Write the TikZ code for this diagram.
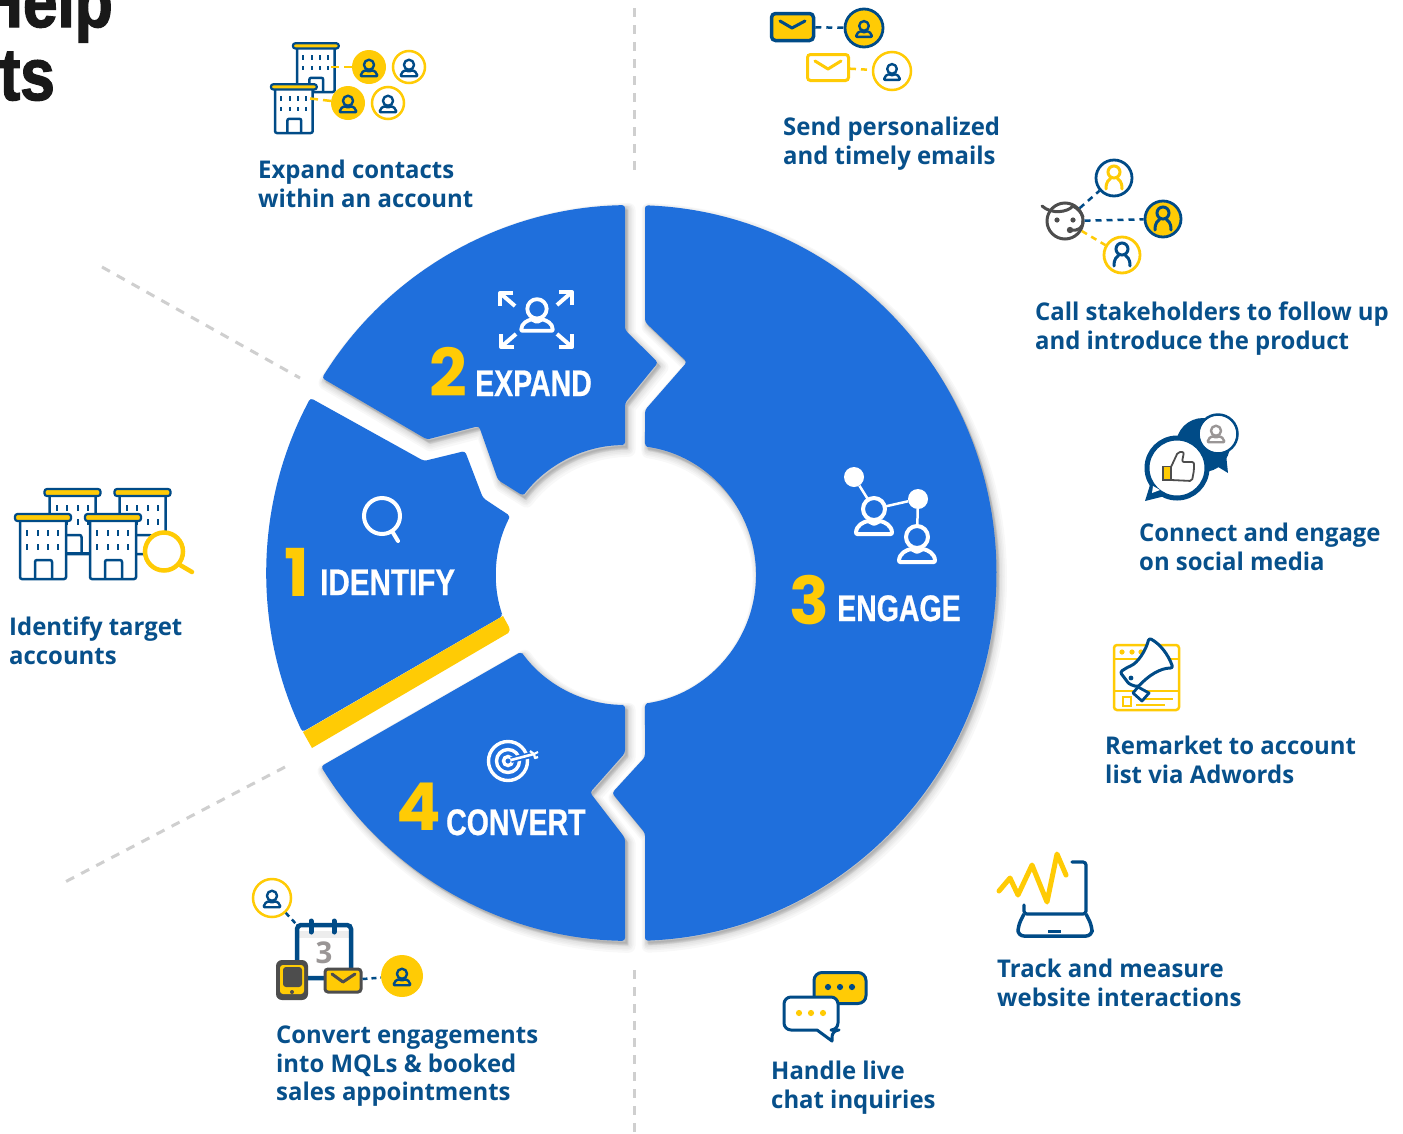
\documentclass[tikz,border=0pt]{standalone}
\usepackage{fontspec}
\usetikzlibrary{calc}
\newfontfamily\labf{Open Sans}[FakeStretch=0.98]
\newfontfamily\numf{Poppins}
\newfontfamily\condf{Liberation Sans}[FakeStretch=0.77,FakeBold=0.6]
\newfontfamily\condg{Liberation Sans}[FakeStretch=0.8,FakeBold=0.6]
\newfontfamily\titlef{Liberation Sans}[FakeStretch=0.84,FakeBold=1.8]
\definecolor{segblue}{HTML}{1F6FDC}
\definecolor{yel}{HTML}{FFCB05}
\definecolor{navy}{HTML}{004B87}
\definecolor{labblue}{HTML}{07508B}
\definecolor{dgray}{HTML}{4D4D4D}
\definecolor{mgray}{HTML}{9A9696}
\definecolor{dashgray}{HTML}{CFCFCF}
\newcommand\pers[5]{% x y scale colour linewidth : icon centre
 \begin{scope}[shift={(#1,#2)},scale=#3]
  \draw[line width=#5,draw=#4,line join=round] (0,-7) circle[radius=11];
  \draw[line width=#5,draw=#4,line join=round,rounded corners=1pt] (-18,18) -- (18,18) .. controls (18,9) and (10,6) .. (6,5) -- (0,8) -- (-6,5) .. controls (-10,6) and (-18,9) .. (-18,18) -- cycle;
 \end{scope}}
\newcommand\archp[3]{% x y colour
 \draw[line width=3pt,draw=#3] (#1,#2-6) circle[radius=6];
 \draw[line width=3pt,draw=#3,line cap=round] (#1-8,#2+11) .. controls (#1-8,#2+3) and (#1-5,#2+2) .. (#1-3.5,#2+0.5);
 \draw[line width=3pt,draw=#3,line cap=round] (#1+8,#2+11) .. controls (#1+8,#2+3) and (#1+5,#2+2) .. (#1+3.5,#2+0.5);}
\newcommand\bld[3]{% x y scaling : left bottom of body
 \begin{scope}[shift={(#1,#2)},#3]
  \draw[navy,fill=white,line width=2.5pt,rounded corners=2pt] (0,-60) -- (46,-60) -- (46,0) -- (0,0) -- cycle;
  \draw[navy,line width=2.5pt,rounded corners=2pt] (15,0) -- (15,-19) -- (32,-19) -- (32,0);
  \draw[navy,fill=yel,line width=2.2pt,rounded corners=2.5pt] (-5,-65) rectangle (51,-58);
  \foreach \wx in {7.3,17.7,28.3,38.3}{\foreach \wy in {-46,-32}{
    \draw[navy,line width=2pt] (\wx,\wy-3) -- (\wx,\wy+3);}}
 \end{scope}}
\newcommand\oarc[3]{($(631.5,573)+(#1:365 and 368)$) -- ($(631.5,573)+(#1+#3:365 and 368)$) arc[start angle={#1+#3},end angle={#2-#3},x radius=365,y radius=368] -- ($(631.5,573)+(#2:365 and 368)$)}
\newcommand\iarc[3]{($(626,575)+(#1:130)$) -- ($(626,575)+(#1+#3:130)$) arc[start angle={#1+#3},end angle={#2-#3},radius=130] -- ($(626,575)+(#2:130)$)}
\newcommand\segone{\oarc{154.4}{208.4}{1} -- (424,461) -- (465,451) -- (483,498) -- \iarc{207}{161.6}{-2} -- cycle}
\newcommand\segtwo{\oarc{212}{268.98}{1} -- (625,330) -- (658,362.5) -- (625,403) -- \iarc{269.6}{217.6}{-2} -- (498,480) -- (479,426) -- (427,439.5) -- cycle}
\newcommand\segthree{\oarc{87.88}{-87.88}{-1} -- (645,322) -- (687,362) -- (645,410) -- \iarc{-81.6}{81.6}{2} -- (645,757) -- (612,793) -- (645,833) -- cycle}
\newcommand\segfour{\iarc{90.4}{143.8}{2} -- \oarc{148.3}{91.02}{-1} -- (625,838) -- (590,792.5) -- (625,753) -- cycle}
\tikzset{
 labeltext/.style={anchor=north west,inner sep=0pt,align=left,text=labblue,font=\labf\bfseries\fontsize{24.4}{28.8}\selectfont},
 numtext/.style={anchor=base west,inner sep=0pt,text=yel,font=\numf\bfseries\fontsize{66}{66}\selectfont},
 captext/.style={anchor=base west,inner sep=0pt,text=white,font=\condf\bfseries\fontsize{37}{37}\selectfont},
 titletext/.style={anchor=base east,inner sep=0pt,text=black!90,font=\titlef\bfseries\fontsize{74}{74}\selectfont},
 grayline/.style={dashgray,line width=3pt,dash pattern=on 9pt off 8pt},
 navydash/.style={navy,line width=2.5pt,dash pattern=on 6pt off 5pt},
 yeldash/.style={yel,line width=2.5pt,dash pattern=on 6pt off 5pt},
 disc/.style={circle,inner sep=0pt,minimum size=#1},
 whiteicon/.style={white,line width=4pt,line join=round},
}
\newcommand\lab[4]{\node[labeltext] (#1) at (#2,#3-20) {\rule{0pt}{20pt}#4};}
\begin{document}
\begin{tikzpicture}[x=1pt,y=1pt,yscale=-1]
\useasboundingbox (0,0) rectangle (1403,1133);
\fill[white] (0,0) rectangle (1403,1133);
% title fragments
\node[titletext] (tita) at (113,27) {Help};
\node[titletext] (titb) at (55,100) {ts};
% grey guide lines
\coordinate (g1a) at (634,8); \coordinate (g1b) at (634,170);
\coordinate (g2a) at (634,970); \coordinate (g2b) at (634,1133);
\coordinate (g3a) at (102,267); \coordinate (g3b) at (300,378);
\coordinate (g4a) at (285,767); \coordinate (g4b) at (65,882);
\draw[grayline] (g1a) -- (g1b);
\draw[grayline] (g2a) -- (g2b);
\draw[grayline] (g3a) -- (g3b);
\draw[grayline] (g4a) -- (g4b);
% shadows
\foreach \d/\w in {7/14,6/11,6/8,5/6,4/4,3/2}{
 \begin{scope}[shift={(\d*0.5,\d*0.7)}]
  \draw[black,opacity=.028,line width=\w pt,line join=round,fill] \segtwo;
  \draw[black,opacity=.028,line width=\w pt,line join=round,fill] \segthree;
  \draw[black,opacity=.028,line width=\w pt,line join=round,fill] \segfour;
 \end{scope}}
% segments
\fill[segblue,rounded corners=3pt] \segone;
\fill[segblue,rounded corners=3pt] \segtwo;
\fill[segblue,rounded corners=3pt] \segthree;
\fill[segblue,rounded corners=3pt] \segfour;
\fill[yel] (503,616) -- (509,627) [rounded corners=2pt] -- (510,632) [sharp corners] -- (312,748) -- (303,732) -- cycle;
% segment texts
\node[numtext] (n1) at (284,596) {1};
\node[captext,font=\condg\bfseries\fontsize{37}{37}\selectfont] (t1) at (320,595) {IDENTIFY};
\node[numtext] (n2) at (429,396) {2};
\node[captext] (t2) at (475,396) {EXPAND};
\node[numtext] (n3) at (789,624) {3};
\node[captext] (t3) at (837,621) {ENGAGE};
\node[numtext] (n4) at (396,830) {4};
\node[captext] (t4) at (446,835) {CONVERT};
% identify glass
\draw[white,line width=4pt] (382,516) circle[radius=18];
\draw[white,line width=4pt,line cap=round] (392,531) -- (398,541);
% expand icon
\pers{537}{315}{.88}{white}{3.8pt}
\foreach \ax/\ay/\sx/\sy in {500/293/1/1,572/292/-1/1,501/347/1/-1,572/347/-1/-1}{
 \draw[whiteicon] (\ax+\sx*13,\ay) -- (\ax,\ay) -- (\ax,\ay+\sy*13);
 \draw[whiteicon] (\ax,\ay) -- (\ax+\sx*15,\ay+\sy*13);}
% engage icon
\node[disc=20pt,fill=white] (ed1) at (854,477) {};
\node[disc=20pt,fill=white] (ed2) at (918,499) {};
\coordinate (eh1) at (874,509); \coordinate (eh2) at (917,537);
\draw[white,line width=2.5pt] (ed1) -- (eh1);
\draw[white,line width=2.5pt] (eh1) -- (ed2);
\draw[white,line width=2.5pt] (ed2) -- (eh2);
\fill[segblue] (eh1) circle[radius=11]; \fill[segblue] (eh2) circle[radius=11];
\pers{874}{516}{1}{white}{4pt}
\pers{917}{544}{1}{white}{4pt}
% target icon
\draw[white,line width=3.4pt] (508,761) circle[radius=19.5];
\draw[white,line width=3.4pt] (508,761) circle[radius=11.5];
\draw[white,line width=3.4pt] (508,761) circle[radius=4.5];
\draw[segblue,line width=6pt] (511,760) -- (531,755);
\draw[white,line width=2.6pt] (511,760) -- (534,754);
\draw[white,line width=2.2pt,line join=round] (530,751) -- (534,754) -- (538,752) (534,754) -- (535,758) -- (538,757);
% labels
\lab{la}{258}{178}{Expand contacts\\within an account}
\lab{lb}{783}{135}{Send personalized\\and timely emails}
\lab{lc}{1035}{320}{Call stakeholders to follow up\\and introduce the product}
\lab{ld}{1139}{541}{Connect and engage\\on social media}
\lab{le}{1105}{754}{Remarket to account\\list via Adwords}
\lab{lf}{997}{977}{Track and measure\\website interactions}
\lab{lg}{771}{1079}{Handle live\\chat inquiries}
\lab{lh}{276}{1043}{Convert engagements\\into MQLs \& booked\\sales appointments}
\lab{li}{9}{635}{Identify target\\accounts}
% identify icon: buildings and glass
\bld{49.5}{554}{scale=1}
\bld{119.5}{554}{scale=1}
\draw[navy,line width=2.5pt] (66,553.5) -- (89,553.5);
\bld{20}{579}{scale=1}
\bld{90}{579}{scale=1}
\fill[white] (164,551.5) circle[radius=19];
\draw[yel,line width=4.5pt] (164,551.5) circle[radius=19];
\draw[yel,line width=4.5pt,line cap=round] (180,565) -- (192,572);
% expand contacts icon
\bld{297}{92}{xscale=.82,yscale=.75}
\bld{275}{133}{xscale=.82,yscale=.75}
\node[disc=34pt,fill=yel] (ca1) at (369,67) {};
\node[disc=32pt,draw=yel,line width=2.5pt] (ca2) at (409,67) {};
\node[disc=34pt,fill=yel] (ca3) at (348,103) {};
\node[disc=32pt,draw=yel,line width=2.5pt] (ca4) at (388,103) {};
\coordinate (ba1) at (327,67); \coordinate (ba2) at (306,98);
\draw[yeldash,dash pattern=on 8pt off 5pt] (ca1) -- (ba1);
\draw[yeldash,dash pattern=on 8pt off 5pt] (ca3) -- (ba2);
\pers{369}{68}{.46}{navy}{2.4pt}
\pers{409}{68}{.46}{navy}{2.4pt}
\pers{348}{104}{.46}{navy}{2.4pt}
\pers{388}{104}{.46}{navy}{2.4pt}
% email icon
\node[disc=38pt,draw=navy,fill=yel,line width=2.8pt] (cb1) at (864,28) {};
\node[disc=38pt,draw=yel,line width=2.5pt] (cb2) at (892,71) {};
\node[inner sep=0pt,minimum width=42pt,minimum height=27pt,rounded corners=4pt,draw=navy,fill=yel,line width=3.5pt] (em1) at (792.5,27) {};
\node[inner sep=0pt,minimum width=41pt,minimum height=26pt,rounded corners=3pt,draw=yel,line width=3pt] (em2) at (828,67.5) {};
\draw[navy,line width=3pt,line cap=round,line join=round] (780,21) -- (792,28) -- (805,21);
\draw[yel,line width=3pt,line cap=round,line join=round] (815,61) -- (828,69) -- (841,61);
\draw[navydash] (em1) -- (cb1);
\draw[yeldash] (em2) -- (cb2);
\pers{864}{29}{.44}{navy}{2.4pt}
\pers{892}{72}{.44}{navy}{2.4pt}
% call icon
\node[disc=36pt,draw=dgray,fill=white,line width=3pt] (face) at (1065,221) {};
\node[disc=36pt,draw=navy,line width=2.8pt] (cc1) at (1114,178) {};
\node[disc=36pt,draw=navy,fill=yel,line width=2.8pt] (cc2) at (1163,219) {};
\node[disc=36pt,draw=yel,line width=2.8pt] (cc3) at (1122,255) {};
\draw[navydash] (face) -- (cc1);
\draw[navydash] (face) -- (cc2);
\draw[yeldash] (face) -- (cc3);
\archp{1114}{178}{yel}
\archp{1163}{219}{navy}
\archp{1122}{255}{navy}
\fill[dgray] (1057,220) circle[radius=2.6] (1073,220) circle[radius=2.6];
\draw[dgray,line width=3pt,line cap=round] (1042,206) .. controls (1052,215) and (1068,212) .. (1073,206) .. controls (1078,209) and (1081,212) .. (1083,217);
\draw[dgray,line width=3pt,line cap=round] (1083,221) .. controls (1083,228) and (1078,231) .. (1071,230);
\fill[dgray] (1070,230) circle[radius=3.2];
% social icon
\fill[navy] (1203,445) circle[radius=27];
\fill[navy] (1210,462) -- (1228,473) -- (1225,445) -- cycle;
\node[disc=39pt,draw=navy,fill=white,line width=2.5pt] (cd) at (1218,434) {};
\fill[navy] (1150,485) -- (1145,501) -- (1165,496) -- cycle;
\node[disc=60pt,draw=navy,fill=white,line width=5pt] (cs) at (1177,468) {};
\fill[white] (1153,486) -- (1152,493) -- (1160,490) -- cycle;
\pers{1216}{434}{.46}{mgray}{2.4pt}
\fill[yel] (1163,466.5) rectangle (1171,480);
\draw[dgray,line width=1.6pt] (1163,466.5) rectangle (1171,480);
\draw[dgray,line width=1.8pt,rounded corners=2pt] (1171,467) -- (1178,452) -- (1184,452) -- (1182,462) -- (1194,462) -- (1194,470) -- (1192,481) -- (1171,480);
% megaphone icon
\draw[yel,line width=2.5pt,rounded corners=3pt] (1114,645) rectangle (1179,710);
\draw[yel,line width=2.5pt] (1114,659) -- (1179,659);
\draw[yel,line width=2.5pt] (1114,691) -- (1179,691);
\fill[yel] (1122,652) circle[radius=2.6] (1132,652) circle[radius=2.6] (1141,652) circle[radius=2.6];
\draw[yel,line width=2.2pt] (1123,697) rectangle (1131,706);
\draw[yel,line width=2.2pt] (1142,699) -- (1173,699);
\draw[yel,line width=2.2pt] (1136,705) -- (1165,705);
\draw[navy,fill=white,line width=2.8pt,line join=round] (1138,687) -- (1149,693) -- (1142,701) -- (1133,693) -- cycle;
\draw[navy,fill=white,line width=3pt,line join=round,rounded corners=2.5pt] (1120,672) -- (1128,667) .. controls (1138,663) and (1146,650) .. (1149,638) .. controls (1160,644) and (1168,654) .. (1173,668) .. controls (1160,668) and (1148,676) .. (1138,687) -- (1129,684) -- cycle;
\fill[navy] (1131,678) circle[radius=2.4];
% laptop icon
\draw[navy,line width=3.2pt,line cap=round,rounded corners=3pt] (1072,862) -- (1086,862) -- (1086,914) -- (1024,914) -- (1024,905);
\draw[navy,line width=3.5pt,rounded corners=6pt] (1024,914) -- (1018,926) -- (1018,936) -- (1092,936) -- (1092,926) -- (1086,914);
\draw[navy,line width=3pt] (1048,931) -- (1061,931);
\draw[yel,line width=5pt,line cap=round,line join=round] (999,891) -- (1010,878) -- (1018,895) -- (1032,865) -- (1047,902) -- (1057,854) -- (1066,875);
% chat icon
\node[inner sep=0pt,minimum width=52pt,minimum height=31pt,rounded corners=8pt,draw=navy,fill=yel,line width=3pt] (ch1) at (840,988) {};
\draw[navy,fill=white,line width=3pt,line join=round,rounded corners=7pt] (817,1030) -- (784,1030) -- (784,997) -- (838,997) -- (838,1030) -- (832,1030) [sharp corners] -- (832,1041) -- cycle;
\fill[navy] (828,987) circle[radius=3.1] (840,987) circle[radius=3.1] (852,987) circle[radius=3.1];
\fill[yel] (799,1013) circle[radius=3.1] (811,1013) circle[radius=3.1] (823,1013) circle[radius=3.1];
% calendar icon
\node[disc=38pt,draw=yel,line width=2.5pt] (ce1) at (272,898) {};
\node[disc=42pt,fill=yel] (ce2) at (402,976) {};
\fill[white!93!black] (297,931) rectangle (351,938);
\draw[navy,line width=4.5pt,rounded corners=4pt] (297,925) rectangle (351,978);
\coordinate (cal) at (297,925);
\draw[navydash,dash pattern=on 5pt off 4pt] (ce1) -- (cal);
\draw[navy,line width=5pt,line cap=round] (311,921) -- (311,932);
\draw[navy,line width=5pt,line cap=round] (334,921) -- (334,932);
\node[inner sep=0pt,text=mgray,font=\labf\bfseries\fontsize{30}{30}\selectfont] (cnum) at (324,953) {3};
\fill[dgray,rounded corners=6pt] (276,960) rectangle (308,1000);
\fill[yel,rounded corners=3pt] (280,965) rectangle (304,994);
\fill[dgray,rounded corners=3pt] (283,967) rectangle (302,987);
\fill[dgray] (292,992) circle[radius=2];
\node[inner sep=0pt,minimum width=36pt,minimum height=23pt,rounded corners=3pt,draw=dgray,fill=yel,line width=3pt] (em3) at (343,980.5) {};
\draw[dgray,line width=3pt,line cap=round,line join=round] (332,974) -- (343,982) -- (355,974);
\draw[navydash,dash pattern=on 5pt off 4pt] (em3) -- (ce2);
\pers{272}{899}{.46}{navy}{2.4pt}
\pers{402}{977}{.46}{navy}{2.4pt}
\end{tikzpicture}
\end{document}
